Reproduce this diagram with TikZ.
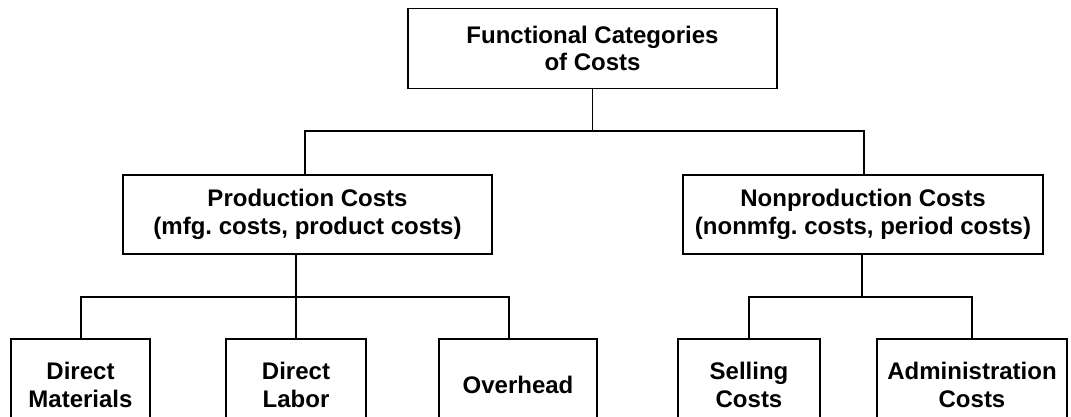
\documentclass[tikz,border=0pt]{standalone}
\usepackage{fontspec}
\setmainfont{Liberation Sans}
\frenchspacing
\begin{document}
\begin{tikzpicture}[x=1pt,y=-1pt,
  box/.style={draw,line width=1.4pt,inner sep=0pt,align=center,
    font=\bfseries\fontsize{24}{27.5}\selectfont},
  link/.style={line width=1.4pt}]
\useasboundingbox (0,0) rectangle (1071,417);
\clip (0,0) rectangle (1071,417);
% boxes
\node[box,minimum width=369pt,minimum height=80pt] (top) at (592.5,48.5) {Functional Categories\\of Costs};
\node[box,minimum width=369pt,minimum height=79pt] (prod) at (307.5,214.5) {Production Costs\\(mfg. costs, product costs)};
\node[box,minimum width=360pt,minimum height=79pt] (nonp) at (863,214.5) {Nonproduction Costs\\(nonmfg. costs, period costs)};
\node[box,minimum width=139pt,minimum height=92pt] (dm) at (80.5,385) {Direct\\Materials};
\node[box,minimum width=140pt,minimum height=92pt] (dl) at (296,385) {Direct\\Labor};
\node[box,minimum width=158pt,minimum height=92pt] (oh) at (518,385) {Overhead};
\node[box,minimum width=142pt,minimum height=92pt] (sc) at (749,385) {Selling\\Costs};
\node[box,minimum width=190pt,minimum height=92pt] (ac) at (972,385) {Administration\\Costs};
% junctions
\coordinate (jL) at (305,131);
\coordinate (jR) at (864,131);
\coordinate (pL) at (81,297);
\coordinate (pM) at (296,297);
\coordinate (pR) at (509,297);
\coordinate (nL) at (749,297);
\coordinate (nM) at (862,297);
\coordinate (nR) at (972,297);
% connectors
\draw[link] (top.south) -- (top.south |- jL);
\draw[link] (jL |- prod.north) -- (jL) -- (jR) -- (jR |- nonp.north);
\draw[link] (pM |- prod.south) -- (pM);
\draw[link] (pL |- dm.north) -- (pL) -- (pR) -- (pR |- oh.north);
\draw[link] (pM) -- (pM |- dl.north);
\draw[link] (nM |- nonp.south) -- (nM);
\draw[link] (nL |- sc.north) -- (nL) -- (nR) -- (nR |- ac.north);
\end{tikzpicture}
\end{document}
